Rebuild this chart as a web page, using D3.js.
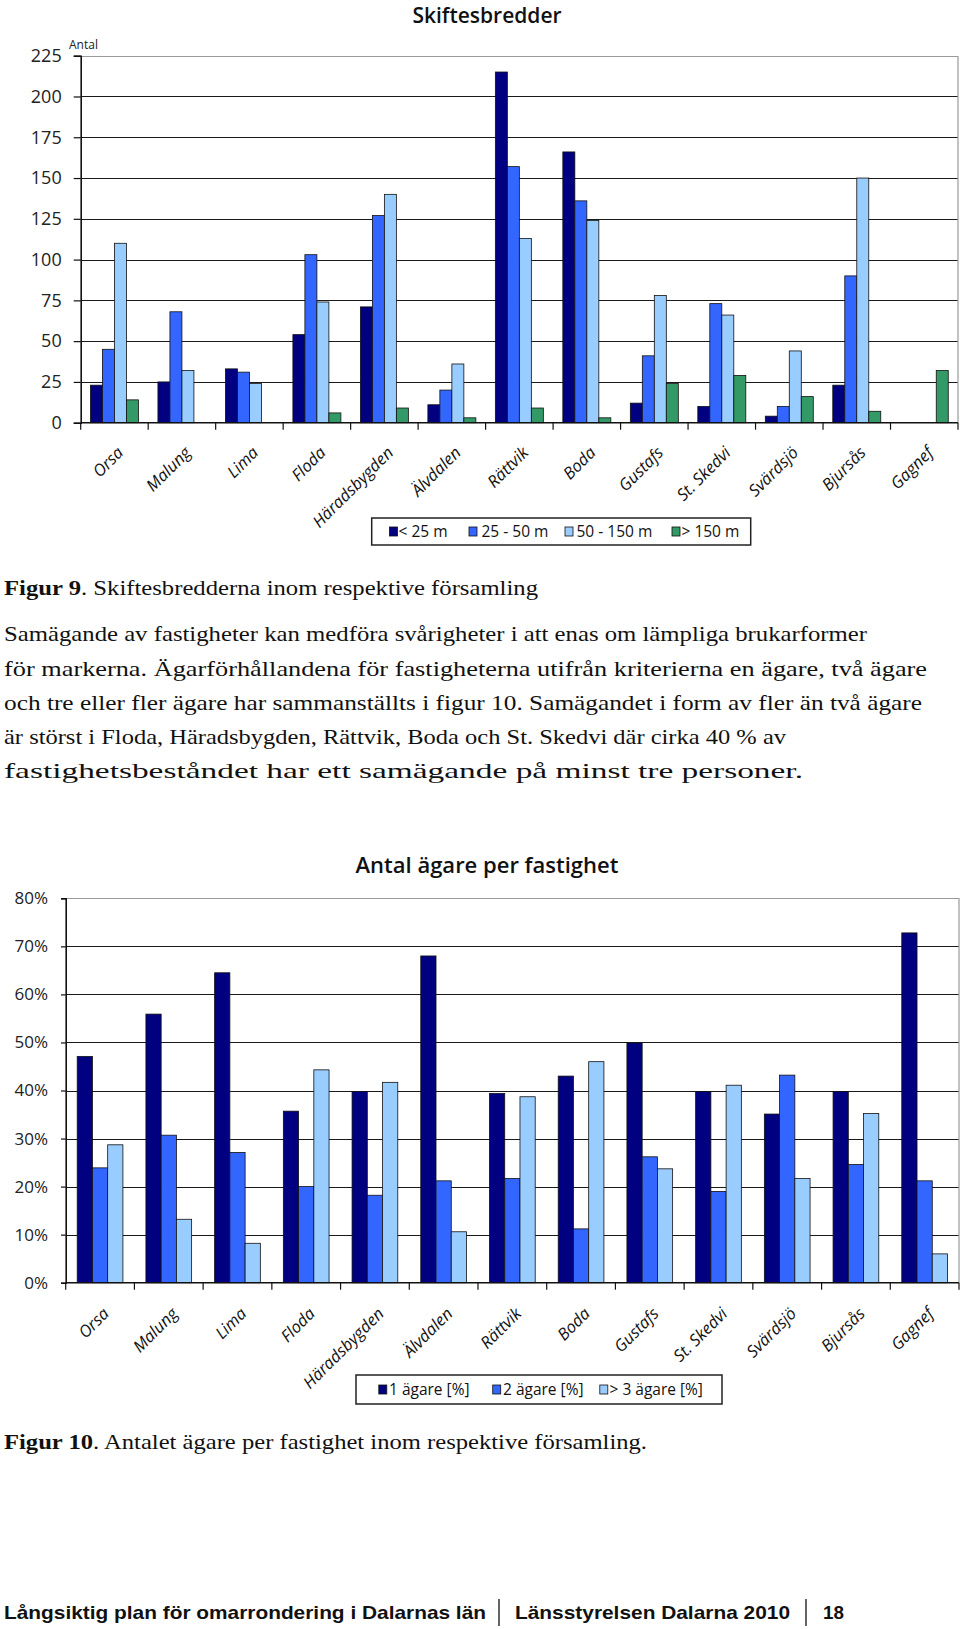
<!DOCTYPE html>
<html><head><meta charset="utf-8">
<script src="https://cdn.jsdelivr.net/npm/d3@7"></script>
<style>
html,body{margin:0;padding:0;background:#fff;}
svg{display:block;}
</style></head>
<body>
<svg id="page" width="960" height="1629"></svg>
<script>
// ---------- DATA ----------
const categories = ["Orsa","Malung","Lima","Floda","Häradsbygden","Älvdalen","Rättvik","Boda","Gustafs","St. Skedvi","Svärdsjö","Bjursås","Gagnef"];

const widthSeries = ["< 25 m","25 - 50 m","50 - 150 m","> 150 m"];
const widthLT25    = [23, 25, 33, 54, 71, 11, 215, 166, 12, 10, 4, 23, 0];
const width25to50  = [45, 68, 31, 103, 127, 20, 157, 136, 41, 73, 10, 90, 0];
const width50to150 = [110, 32, 24, 74, 140, 36, 113, 124, 78, 66, 44, 150, 0];
const widthGT150   = [14, 0, 0, 6, 9, 3, 9, 3, 24, 29, 16, 7, 32];
const widthTicks   = [0, 25, 50, 75, 100, 125, 150, 175, 200, 225];

const ownerSeries = ["1 ägare [%]","2 ägare [%]","> 3 ägare [%]"];
const owner1 = [47.1, 55.9, 64.5, 35.7, 39.8, 68.0, 39.4, 43.0, 49.9, 39.8, 35.1, 39.8, 72.8];
const owner2 = [23.9, 30.7, 27.1, 20.0, 18.2, 21.2, 21.7, 11.2, 26.2, 19.0, 43.2, 24.6, 21.2];
const owner3 = [28.7, 13.2, 8.2, 44.3, 41.7, 10.6, 38.7, 46.0, 23.7, 41.1, 21.7, 35.2, 6.0];
const ownerTicks = [0, 10, 20, 30, 40, 50, 60, 70, 80];

const titles = ["Skiftesbredder", "Antal ägare per fastighet"];
const captionText = [
  ["Figur 9", ". Skiftesbredderna inom respektive församling"],
  ["Figur 10", ". Antalet ägare per fastighet inom respektive församling."]
];
const paragraphLines = [
  "Samägande av fastigheter kan medföra svårigheter i att enas om lämpliga brukarformer",
  "för markerna. Ägarförhållandena för fastigheterna utifrån kriterierna en ägare, två ägare",
  "och tre eller fler ägare har sammanställts i figur 10. Samägandet i form av fler än två ägare",
  "är störst i Floda, Häradsbygden, Rättvik, Boda och St. Skedvi där cirka 40 % av",
  "fastighetsbeståndet har ett samägande på minst tre personer."
];
const footerParts = ["Långsiktig plan för omarrondering i Dalarnas län", "Länsstyrelsen Dalarna 2010", "18"];

// ---------- STYLE ----------
const svg = d3.select("#page");
svg.append("rect").attr("width",960).attr("height",1629).attr("fill","#fff");
const SANS = "'Open Sans', 'Liberation Sans', sans-serif";
const SERIF = "'Liberation Serif', 'DejaVu Serif', serif";

function drawChart(cfg){
  const g = svg.append("g");
  const x = d3.scaleBand().domain(categories).range([cfg.left, cfg.right]);
  const y = d3.scaleLinear().domain([0, cfg.max]).range([cfg.bottom, cfg.top]);
  const inner = d3.scaleBand().domain(cfg.series).range([cfg.gap, x.bandwidth()-cfg.gap]);

  // gridlines
  g.append("g").selectAll("line").data(cfg.ticks.filter(t=>t>0 && t<cfg.max)).join("line")
    .attr("x1", cfg.left).attr("x2", cfg.right)
    .attr("y1", d=>Math.round(y(d))+0.5).attr("y2", d=>Math.round(y(d))+0.5)
    .attr("stroke","#1a1a1a").attr("stroke-width",1);
  // top & right border
  g.append("path")
    .attr("d", `M${cfg.left},${Math.round(y(cfg.max))+0.5}H${cfg.right}V${cfg.bottom}`)
    .attr("fill","none").attr("stroke","#9a9a9a").attr("stroke-width",1.2);

  // bars
  cfg.series.forEach((s, si) => {
    g.append("g").selectAll("rect").data(cfg.values[si].map((v,i)=>({v, c:categories[i]})).filter(d=>d.v>0)).join("rect")
      .attr("x", d=>x(d.c)+inner(s))
      .attr("y", d=>y(d.v))
      .attr("width", inner.bandwidth())
      .attr("height", d=>cfg.bottom - y(d.v))
      .attr("fill", cfg.colors[si])
      .attr("stroke","#111").attr("stroke-width",0.8);
  });

  // y axis
  const ya = g.append("g").attr("transform",`translate(${cfg.left},0)`)
    .call(d3.axisLeft(y).tickValues(cfg.ticks).tickSize(cfg.tickLen).tickPadding(cfg.tickPad).tickFormat(cfg.fmt));
  ya.select(".domain").attr("stroke","#111").attr("stroke-width",1.6);
  ya.selectAll(".tick line").attr("stroke","#111").attr("stroke-width",1.2);
  ya.selectAll(".tick text").attr("font-family",SANS).attr("font-size",cfg.yFont).attr("fill","#222");

  // x axis line and boundary ticks
  g.append("line").attr("x1",cfg.left).attr("x2",cfg.right).attr("y1",cfg.bottom).attr("y2",cfg.bottom)
    .attr("stroke","#111").attr("stroke-width",1.6);
  const bounds = categories.map(c=>x(c)).concat([cfg.right]);
  g.append("g").selectAll("line").data(bounds).join("line")
    .attr("x1",d=>d).attr("x2",d=>d).attr("y1",cfg.bottom).attr("y2",cfg.bottom+7)
    .attr("stroke","#111").attr("stroke-width",1.2);

  // category labels
  g.append("g").selectAll("text").data(categories).join("text")
    .attr("transform", c=>`translate(${x(c)+x.bandwidth()/2+cfg.lblDx},${cfg.bottom+cfg.lblDy}) rotate(-45)`)
    .attr("text-anchor","end")
    .attr("font-family",SANS).attr("font-style","italic").attr("font-size",cfg.xFont).attr("fill","#111")
    .text(c=>c);

  // title
  g.append("text").attr("x",cfg.titleX).attr("y",cfg.titleY).attr("text-anchor","middle")
    .attr("font-family",SANS).attr("font-weight",600).attr("font-size",cfg.titleFont).attr("fill","#111")
    .text(cfg.title);

  // legend
  const L = cfg.legend;
  g.append("rect").attr("x",L.x).attr("y",L.y).attr("width",L.w).attr("height",L.h)
    .attr("fill","#fff").attr("stroke","#222").attr("stroke-width",1.5);
  cfg.series.forEach((s,si)=>{
    g.append("rect").attr("x",L.sw[si]).attr("y",L.y+L.h/2-4.5).attr("width",8).attr("height",9)
      .attr("fill",cfg.colors[si]).attr("stroke","#111").attr("stroke-width",0.8);
    g.append("text").attr("x",L.tx[si]).attr("y",L.y+L.h/2).attr("dy","0.35em")
      .attr("font-family",SANS).attr("font-size",L.font).attr("fill","#111").text(s);
  });
  return g;
}

// Chart 1
const c1 = drawChart({
  series: widthSeries,
  values: [widthLT25, width25to50, width50to150, widthGT150],
  colors: ["#000080","#3366FF","#99CCFF","#339966"],
  left: 80.7, right: 958, top: 55.7, bottom: 422.7, max: 225, ticks: widthTicks,
  gap: 9.75, tickLen: 7, tickPad: 12, fmt: d=>d, yFont: 18, xFont: 16.5,
  lblDx: 10, lblDy: 31,
  title: titles[0], titleX: 487, titleY: 23, titleFont: 21,
  legend: {x:371.7, y:518, w:379, h:27, sw:[389.5,469,565,672], tx:[398.5,481.5,576.5,681.5], font:15.5}
});
c1.append("text").attr("x",69).attr("y",49).attr("font-family",SANS).attr("font-size",12).attr("fill","#222").text("Antal");

// Chart 2
drawChart({
  series: ownerSeries,
  values: [owner1, owner2, owner3],
  colors: ["#000080","#3366FF","#99CCFF"],
  left: 65.7, right: 959, top: 898.3, bottom: 1282.7, max: 80, ticks: ownerTicks,
  gap: 11.5, tickLen: 4.7, tickPad: 13, fmt: d=>d+"%", yFont: 17, xFont: 16.5,
  lblDx: 10, lblDy: 32,
  title: titles[1], titleX: 487, titleY: 873, titleFont: 22,
  legend: {x:356, y:1375, w:366, h:29, sw:[378.8,492.7,599.8], tx:[389,503,609.5], font:15.5}
});

// Captions and paragraph
function caption(parts, y, len){
  const t = svg.append("text").attr("x",4).attr("y",y).attr("font-family",SERIF).attr("font-size",22).attr("fill","#111")
    .attr("textLength",len).attr("lengthAdjust","spacingAndGlyphs");
  t.append("tspan").attr("font-weight","bold").text(parts[0]);
  t.append("tspan").text(parts[1]);
}
caption(captionText[0], 595, 534);
caption(captionText[1], 1449, 643);

const lineY = [641, 676, 710, 744, 778];
const lineLen = [863, 923, 918, 782, 799];
paragraphLines.forEach((l,i)=>{
  svg.append("text").attr("x",4).attr("y",lineY[i]).attr("font-family",SERIF).attr("font-size",22).attr("fill","#111")
    .attr("textLength",lineLen[i]).attr("lengthAdjust","spacingAndGlyphs").text(l);
});

// Footer
const FOOT = "'Liberation Sans', Arial, sans-serif";
const footX = [4, 515, 823], footLen = [482, 275, 21];
footerParts.forEach((p,i)=>{
  svg.append("text").attr("x",footX[i]).attr("y",1619).attr("font-family",FOOT).attr("font-weight","bold")
    .attr("font-size",18.5).attr("fill","#111").attr("textLength",footLen[i]).attr("lengthAdjust","spacingAndGlyphs").text(p);
});
[499, 806].forEach(xv=>{
  svg.append("line").attr("x1",xv).attr("x2",xv).attr("y1",1599).attr("y2",1626).attr("stroke","#111").attr("stroke-width",1.3);
});
</script>
</body></html>
